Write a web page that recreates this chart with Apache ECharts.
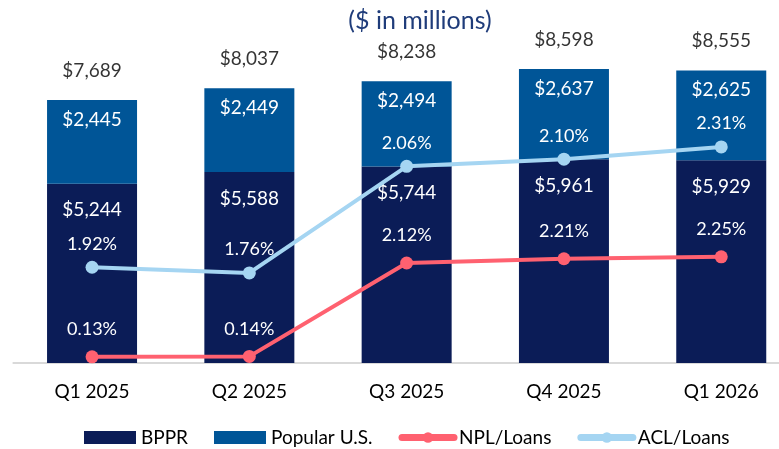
<!DOCTYPE html>
<html>
<head>
<meta charset="utf-8">
<script src="https://cdn.jsdelivr.net/npm/echarts@6/dist/echarts.min.js"></script>
<style>
html,body{margin:0;padding:0;background:#fff;}
#c{width:779px;height:449px;}
</style>
</head>
<body>
<div id="c"></div>
<script>
// ---- data ----
var categories = ['Q1 2025', 'Q2 2025', 'Q3 2025', 'Q4 2025', 'Q1 2026'];
var bppr = [5244, 5588, 5744, 5961, 5929];
var popularUS = [2445, 2449, 2494, 2637, 2625];
var totals = [7689, 8037, 8238, 8598, 8555];
var nplLoans = [0.13, 0.14, 2.12, 2.21, 2.25];          // % (labels and plotted)
var aclLoans = [1.92, 1.76, 2.06, 2.10, 2.31];          // % (labels)
var aclPlotted = [2.03, 1.91, 4.17, 4.32, 4.58];        // as drawn in the reference (hidden % axis)

var FONT = 'Lato';
var C_BPPR = '#0B1C57', C_US = '#005597', C_NPL = '#FF6170', C_ACL = '#A5D5F2';

function money(v){ return '$' + v.toLocaleString('en-US'); }

var chart = echarts.init(document.getElementById('c'), null, {renderer: 'canvas'});
chart.setOption({
  animation: false,
  textStyle: {fontFamily: FONT},
  title: {
    text: '($ in millions)',
    left: 415, top: 3, textAlign: 'center',
    textStyle: {fontFamily: FONT, fontSize: 25, fontWeight: 'normal', color: '#1F3C7A'}
  },
  legend: {
    left: 84, top: 428, padding: 0,
    itemWidth: 52, itemHeight: 13, itemGap: 26,
    textStyle: {fontFamily: FONT, fontSize: 19, color: '#000'},
    data: [
      {name: 'BPPR', icon: 'rect'},
      {name: 'Popular U.S.', icon: 'rect'},
      {name: 'NPL/Loans', lineStyle: {width: 7, cap: 'round'}},
      {name: 'ACL/Loans', lineStyle: {width: 7, cap: 'round'}}
    ]
  },
  grid: {left: 13.4, width: 786.5, top: 21, height: 342, outerBoundsMode: 'none'},
  xAxis: {
    type: 'category', data: categories,
    axisLine: {lineStyle: {color: '#D9D9D9', width: 2}},
    axisTick: {show: false},
    axisLabel: {fontFamily: FONT, fontSize: 19, color: '#000', margin: 19}
  },
  yAxis: [
    {type: 'value', min: 0, max: 10000, show: false},
    {type: 'value', min: 0, max: 7.25, show: false}
  ],
  series: [
    {
      name: 'BPPR', type: 'bar', stack: 'total', data: bppr, barWidth: 90,
      itemStyle: {color: C_BPPR},
      label: {show: true, position: 'insideTop', distance: 17, color: '#fff',
              fontFamily: FONT, fontSize: 19, formatter: function(p){return money(p.value);}}
    },
    {
      name: 'Popular U.S.', type: 'bar', stack: 'total', data: popularUS, barWidth: 90,
      itemStyle: {color: C_US},
      label: {show: true, position: 'insideTop', distance: 10, color: '#fff',
              fontFamily: FONT, fontSize: 19, formatter: function(p){return money(p.value);}}
    },
    {
      name: 'Total', type: 'scatter', data: totals, symbolSize: 0,
      label: {show: true, position: 'top', distance: 20, color: '#000',
              fontFamily: FONT, fontSize: 19, formatter: function(p){return money(p.value);}},
      z: 5
    },
    {
      name: 'NPL/Loans', type: 'line', yAxisIndex: 1, data: nplLoans,
      symbol: 'circle', symbolSize: 13,
      lineStyle: {color: C_NPL, width: 4}, itemStyle: {color: C_NPL},
      label: {show: true, position: 'top', distance: 12, color: '#fff',
              fontFamily: FONT, fontSize: 18, formatter: function(p){return nplLoans[p.dataIndex].toFixed(2) + '%';}},
      z: 10
    },
    {
      name: 'ACL/Loans', type: 'line', yAxisIndex: 1, data: aclPlotted,
      symbol: 'circle', symbolSize: 13,
      lineStyle: {color: C_ACL, width: 4}, itemStyle: {color: C_ACL},
      label: {show: true, position: 'top', distance: 8, color: '#fff',
              fontFamily: FONT, fontSize: 18, formatter: function(p){return aclLoans[p.dataIndex].toFixed(2) + '%';}},
      z: 10
    }
  ]
});
</script>
</body>
</html>
